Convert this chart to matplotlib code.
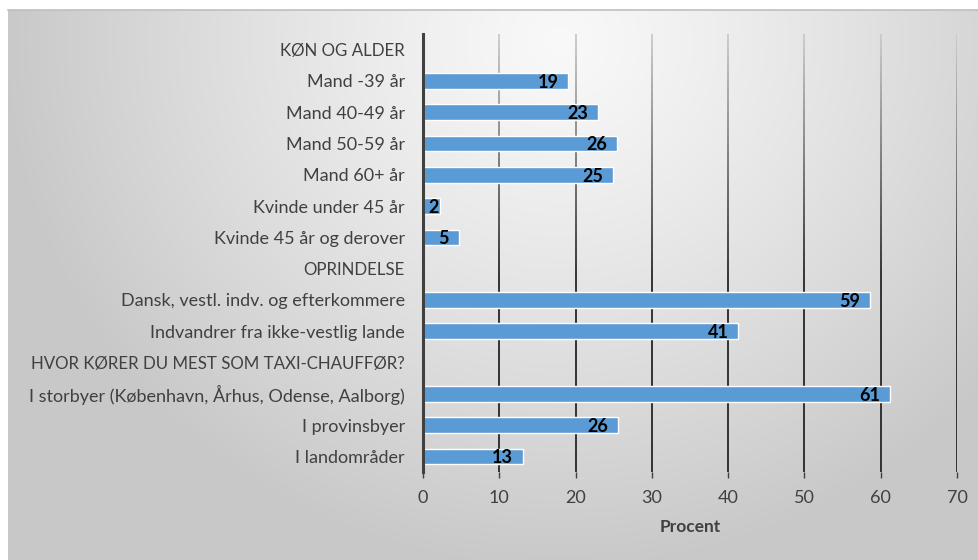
import numpy as np
import matplotlib
matplotlib.use("Agg")
import matplotlib.pyplot as plt
from matplotlib.collections import LineCollection

categories = [
    "KØN OG ALDER",
    "Mand -39 år",
    "Mand 40-49 år",
    "Mand 50-59 år",
    "Mand 60+ år",
    "Kvinde under 45 år",
    "Kvinde 45 år og derover",
    "OPRINDELSE",
    "Dansk, vestl. indv. og efterkommere",
    "Indvandrer fra ikke-vestlig lande",
    "HVOR KØRER DU MEST SOM TAXI-CHAUFFØR?",
    "I storbyer (København, Århus, Odense, Aalborg)",
    "I provinsbyer",
    "I landområder",
]
values = [np.nan, 19.0, 23.0, 25.4, 24.9, 2.2, 4.7, np.nan, 58.6, 41.3, np.nan, 61.2, 25.6, 13.1]
labels = ["", "19", "23", "26", "25", "2", "5", "", "59", "41", "", "61", "26", "13"]
xticks = [0, 10, 20, 30, 40, 50, 60, 70]
xlabel = "Procent"

FONT = ["Lato", "DejaVu Sans"]
W, H = 979, 560
fig = plt.figure(figsize=(W / 100, H / 100), dpi=100)
fig.patch.set_facecolor("white")

# background gradient panel
bx0, by_top = 8, 10
bg = fig.add_axes([bx0 / W, 0, 1 - bx0 / W, (H - by_top) / H])
gx, gy = np.meshgrid(np.linspace(bx0, W, 400), np.linspace(by_top, H, 240))
d = np.hypot(gx - 560, (gy - 40) * 1.05)
g = 0.975 - 0.19 * np.clip(d / 560, 0, 1) ** 1.2
g = np.clip(g, 0.78, 1)
img = np.dstack([g, g, g])
bg.imshow(img, extent=[0, 1, 0, 1], aspect="auto", origin="upper")
bg.axis("off")
fig.add_artist(plt.Line2D([bx0 / W, 1], [1 - by_top / H, 1 - by_top / H],
                          color="#bfbfbf", lw=1.2, transform=fig.transFigure))

ax = fig.add_axes([423 / W, 1 - 472 / H, (957 - 423) / W, (472 - 34) / H])
ax.patch.set_alpha(0)

n = len(categories)
y = np.arange(n)
vals = np.array(values, dtype=float)
ax.barh(y, np.nan_to_num(vals), height=0.5, color="#5B9BD5", edgecolor="white", linewidth=1.0, zorder=3)

ax.set_ylim(n - 0.5, -0.5)
ax.set_xlim(0, 70)
ax.set_yticks(y)
ax.set_yticklabels(categories, fontsize=13, color="#404040", family=FONT)
for tl in ax.get_yticklabels():
    if tl.get_text().isupper():
        tl.set_fontsize(12.2)
ax.tick_params(axis="y", length=0, pad=13)
ax.set_xticks(xticks)
ax.set_xticklabels([str(t) for t in xticks], fontsize=13, color="#404040", family=FONT)
ax.tick_params(axis="x", length=4, width=1.0, color="#404040", pad=9)
ax.set_xlabel(xlabel, fontsize=12.5, fontweight="bold", color="#404040", family=FONT, labelpad=9)

for s in ["top", "right", "bottom"]:
    ax.spines[s].set_visible(False)
ax.spines["left"].set_color("#404040")
ax.spines["left"].set_linewidth(2.2)
ax.spines["left"].set_zorder(5)

# gradient gridlines
tr = ax.get_xaxis_transform()
nseg = 60
ys = np.linspace(0, 1, nseg + 1)
for t in xticks[1:]:
    segs = [[(t, ys[i]), (t, ys[i + 1])] for i in range(nseg)]
    mid = (ys[:-1] + ys[1:]) / 2
    c = np.clip(0.15 + (mid - 0.45) / 0.55 * 0.65, 0.15, 0.8)
    cols = [(v, v, v) for v in c]
    lc = LineCollection(segs, colors=cols, linewidths=1.3, transform=tr, zorder=1)
    ax.add_collection(lc)

for yi, v, lab in zip(y, vals, labels):
    if np.isnan(v) or not lab:
        continue
    xpos = max(v, 3.4)
    ax.annotate(lab, (xpos, yi), xytext=(-7, -1), textcoords="offset points",
                ha="right", va="center", fontsize=13, fontweight="bold", color="black",
                family=FONT, zorder=6)

fig.savefig("out.png", dpi=100)
